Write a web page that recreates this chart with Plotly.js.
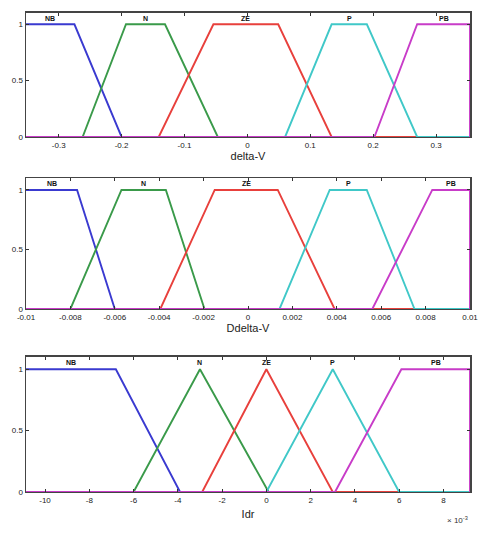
<!DOCTYPE html>
<html>
<head>
<meta charset="utf-8">
<script src="https://cdn.plot.ly/plotly-3.0.1.min.js"></script>
<style>html,body{margin:0;padding:0;background:#fff}#chart{width:480px;height:537px}</style>
</head>
<body>
<div id="chart"></div>
<script>
// Membership function names and colours
const mfLabels = ['NB', 'N', 'ZE', 'P', 'PB'];
const mfColors = ['#3a3ad0', '#3a9a4a', '#e8403c', '#40c8c8', '#c83cc8'];

// delta-V input: trapezoid params [a, b, c, d]
const dvRange = [-0.352, 0.354];
const dvNB = [-0.352, -0.352, -0.275, -0.2];
const dvN  = [-0.262, -0.193, -0.131, -0.047];
const dvZE = [-0.141, -0.054, 0.049, 0.134];
const dvP  = [0.06, 0.134, 0.19, 0.27];
const dvPB = [0.202, 0.27, 0.354, 0.354];
const dvTicks = [-0.3, -0.2, -0.1, 0, 0.1, 0.2, 0.3];
const dvTickText = ['-0.3', '-0.2', '-0.1', '0', '0.1', '0.2', '0.3'];

// Ddelta-V input
const ddvRange = [-0.01, 0.01];
const ddvNB = [-0.01, -0.01, -0.0077, -0.006];
const ddvN  = [-0.008, -0.0057, -0.0037, -0.00196];
const ddvZE = [-0.00395, -0.0015, 0.00134, 0.0039];
const ddvP  = [0.00142, 0.00368, 0.00535, 0.0075];
const ddvPB = [0.0056, 0.0083, 0.01, 0.01];
const ddvTicks = [-0.01, -0.008, -0.006, -0.004, -0.002, 0, 0.002, 0.004, 0.006, 0.008, 0.01];
const ddvTickText = ['-0.01', '-0.008', '-0.006', '-0.004', '-0.002', '0', '0.002', '0.004', '0.006', '0.008', '0.01'];

// Idr output (x 10^-3)
const idrRange = [-0.01086, 0.0092];
const idrNB = [-0.01086, -0.01086, -0.0068, -0.0039];
const idrN  = [-0.006, -0.003, -0.003, 0.0001];
const idrZE = [-0.0029, 0, 0, 0.003];
const idrP  = [0, 0.003, 0.003, 0.006];
const idrPB = [0.0031, 0.0061, 0.0092, 0.0092];
const idrTicks = [-0.01, -0.008, -0.006, -0.004, -0.002, 0, 0.002, 0.004, 0.006, 0.008];
const idrTickText = ['-10', '-8', '-6', '-4', '-2', '0', '2', '4', '6', '8'];

function trapPoints(p, range) {
  const pts = [[range[0], 0], [p[0], 0], [p[1], 1], [p[2], 1], [p[3], 0], [range[1], 0]];
  let start = 0;
  pts.forEach((pt, i) => { if (pt[0] <= range[0]) start = i; });
  const outX = [], outY = [];
  for (let i = start; i < pts.length; i++) {
    const [x, y] = pts[i];
    if (x > range[1]) continue;
    if (outX.length && x === outX[outX.length - 1] && y === outY[outY.length - 1]) continue;
    outX.push(x); outY.push(y);
  }
  return [outX, outY];
}

const groups = [
  {mfs: [dvNB, dvN, dvZE, dvP, dvPB], range: dvRange, ax: ''},
  {mfs: [ddvNB, ddvN, ddvZE, ddvP, ddvPB], range: ddvRange, ax: '2'},
  {mfs: [idrNB, idrN, idrZE, idrP, idrPB], range: idrRange, ax: '3'}
];

const labelFont = {family: 'Liberation Sans, Arial, sans-serif', size: 7, color: '#111', weight: 'bold'};
const traces = [];
const annotations = [];
groups.forEach(g => {
  g.mfs.forEach((p, i) => {
    const [x, y] = trapPoints(p, g.range);
    traces.push({
      x: x, y: y, type: 'scatter', mode: 'lines',
      line: {color: mfColors[i], width: 1.9},
      xaxis: 'x' + g.ax, yaxis: 'y' + g.ax,
      showlegend: false, hoverinfo: 'skip'
    });
    const cx = (Math.max(p[1], g.range[0]) + Math.min(p[2], g.range[1])) / 2;
    annotations.push({
      x: cx, y: 1.055, xref: 'x' + g.ax, yref: 'y' + g.ax,
      text: mfLabels[i], showarrow: false, font: labelFont
    });
  });
});

annotations.push({
  x: 1.0, y: 0.018, xref: 'paper', yref: 'paper', xanchor: 'right',
  text: '\u00d7 10<sup>-3</sup>', showarrow: false,
  font: {family: 'Liberation Sans, Arial, sans-serif', size: 8, color: '#333'}
});

const tickFont = {family: 'Liberation Sans, Arial, sans-serif', size: 8, color: '#222'};
const titleFont = {family: 'Liberation Sans, Arial, sans-serif', size: 11, color: '#222'};

function xAxis(range, vals, text, title, anchor, standoff) {
  return {
    range: range, tickvals: vals, ticktext: text, ticks: 'inside', ticklen: 3,
    tickcolor: '#333', showline: true, linecolor: '#444', linewidth: 1.5, mirror: 'ticks',
    showgrid: false, zeroline: false, tickfont: tickFont, anchor: anchor,
    title: {text: title, font: titleFont, standoff: standoff}, fixedrange: true
  };
}
function yAxis(domain, anchor) {
  return {
    domain: domain, range: [0, 1.1], tickvals: [0, 0.5, 1], ticktext: ['0', '0.5', '1'],
    ticks: 'inside', ticklen: 3, tickcolor: '#333', showline: true, linecolor: '#444',
    linewidth: 1.5, mirror: 'ticks', showgrid: false, zeroline: false, tickfont: tickFont,
    anchor: anchor, fixedrange: true
  };
}

const layout = {
  width: 480, height: 537,
  margin: {l: 26, r: 10, t: 0, b: 0},
  paper_bgcolor: '#fff', plot_bgcolor: '#fff',
  showlegend: false,
  xaxis: xAxis(dvRange, dvTicks, dvTickText, 'delta-V', 'y', 2),
  yaxis: yAxis([0.7449, 0.9758], 'x'),
  xaxis2: xAxis(ddvRange, ddvTicks, ddvTickText, 'Ddelta-V', 'y2', 2),
  yaxis2: yAxis([0.4246, 0.6685], 'x2'),
  xaxis3: xAxis(idrRange, idrTicks, idrTickText, 'Idr', 'y3', 6),
  yaxis3: yAxis([0.0838, 0.3352], 'x3'),
  annotations: annotations
};

Plotly.newPlot('chart', traces, layout, {displayModeBar: false, staticPlot: true});
</script>
</body>
</html>
